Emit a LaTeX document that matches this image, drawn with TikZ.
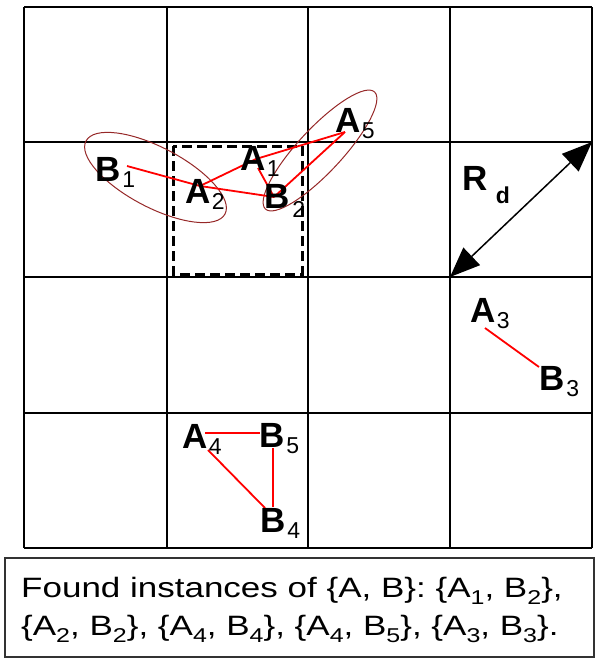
\documentclass[tikz,border=0pt]{standalone}
\usepackage{fontspec}
\setmainfont{Liberation Sans}
\newfontfamily\boxfont[FakeStretch=1.25]{Liberation Sans}
\usetikzlibrary{arrows.meta}
\definecolor{ellred}{RGB}{150,40,40}
\newcommand\lsub[1]{\hspace{1.5pt}\raisebox{-6pt}{\fontsize{23}{23}\selectfont\mdseries #1}}
\newcommand\tsub[1]{\raisebox{-7pt}{\fontsize{20}{20}\selectfont #1}}
\tikzset{
  gridline/.style={line width=2pt,black},
  dashbox/.style={line width=3pt,black,dash pattern=on 10pt off 5pt},
  ell/.style={line width=1pt,ellred},
  redline/.style={line width=1.8pt,red},
  lab/.style={inner sep=0pt,anchor=base west,font=\bfseries\fontsize{35}{35}\selectfont},
  boxtext/.style={inner sep=0pt,anchor=base west,font=\boxfont\fontsize{28}{28}\selectfont},
  rarrow/.style={line width=1.5pt,{Triangle[length=30pt,width=24pt]}-{Triangle[length=30pt,width=24pt]}}
}
\begin{document}
\begin{tikzpicture}[x=1pt,y=-1pt]
\useasboundingbox (0,0) rectangle (595,659);
% grid
\foreach \xx in {24,166.5,308,450,592}
  \draw[gridline] (\xx,7) -- (\xx,548);
\foreach \yy in {7,142,277,412.5,548}
  \draw[gridline] (24,\yy) -- (592,\yy);
% dashed box
\draw[dashbox] (173,146) rectangle (302,274);
% ellipses
\draw[ell, rotate around={-27.7:(155.5,177.5)}] (155.5,177.5) ellipse [x radius=78.5pt, y radius=30pt];
\draw[ell, rotate around={47:(320,150.5)}] (320,150.5) ellipse [x radius=80pt, y radius=22pt];
% coordinates
\coordinate (pB1) at (127,166);
\coordinate (pA2) at (200,186);
\coordinate (pA1) at (256,159);
\coordinate (pA1b) at (258,168);
\coordinate (pB2) at (274,197);
\coordinate (pA5) at (345,132);
\coordinate (pA3) at (485,328);
\coordinate (pB3) at (539,367);
\coordinate (pA4h) at (205,433);
\coordinate (pB5h) at (260,433);
\coordinate (pA4d) at (208,450);
\coordinate (pB4d) at (265,508);
\coordinate (pB5v) at (273,448);
\coordinate (pB4v) at (273,507);
% red lines
\draw[redline] (pB1) -- (pA2);
\draw[redline] (pA2) -- (pA1);
\draw[redline] (pA2) -- (pB2);
\draw[redline] (pA1b) -- (pB2);
\draw[redline] (pA1) -- (pA5);
\draw[redline] (pB2) -- (pA5);
\draw[redline] (pA3) -- (pB3);
\draw[redline] (pA4h) -- (pB5h);
\draw[redline] (pA4d) -- (pB4d);
\draw[redline] (pB5v) -- (pB4v);
% labels
\node[lab] (B1) at (95.5,181) {B\lsub{1}};
\node[lab] (A2) at (185,203) {A\lsub{2}};
\node[lab] (A1) at (240,170) {A\lsub{1}};
\node[lab] (B2) at (264.5,208) {B\hspace{1pt}\raisebox{-3pt}{\lsub{2}}};
\node[lab] (A5) at (335,132) {A\lsub{5}};
\node[lab] (A3) at (470,322) {A\lsub{3}};
\node[lab] (B3) at (539.5,390) {B\lsub{3}};
\node[lab] (A4) at (182,448) {A\lsub{4}};
\node[lab] (B5) at (259.5,447) {B\lsub{5}};
\node[lab] (B4) at (260.5,532) {B\lsub{4}};
\node[lab] (Rd) at (462.5,190) {R\hspace{8pt}\raisebox{-13pt}{\fontsize{23}{23}\selectfont d}};
% Rd arrow
\coordinate (rlow) at (450,277);
\coordinate (rhigh) at (592,142);
\draw[rarrow] (rlow) -- (rhigh);
% bottom text box
\draw[line width=1.5pt,black!80] (5,558) rectangle (594,657);
\node[boxtext] (t1) at (21,597) {Found instances of \{A, B\}: \{A\tsub{1}, B\tsub{2}\},};
\node[boxtext] (t2) at (21,635) {\{A\tsub{2}, B\tsub{2}\}, \{A\tsub{4}, B\tsub{4}\}, \{A\tsub{4}, B\tsub{5}\}, \{A\tsub{3}, B\tsub{3}\}.};
\end{tikzpicture}
\end{document}
